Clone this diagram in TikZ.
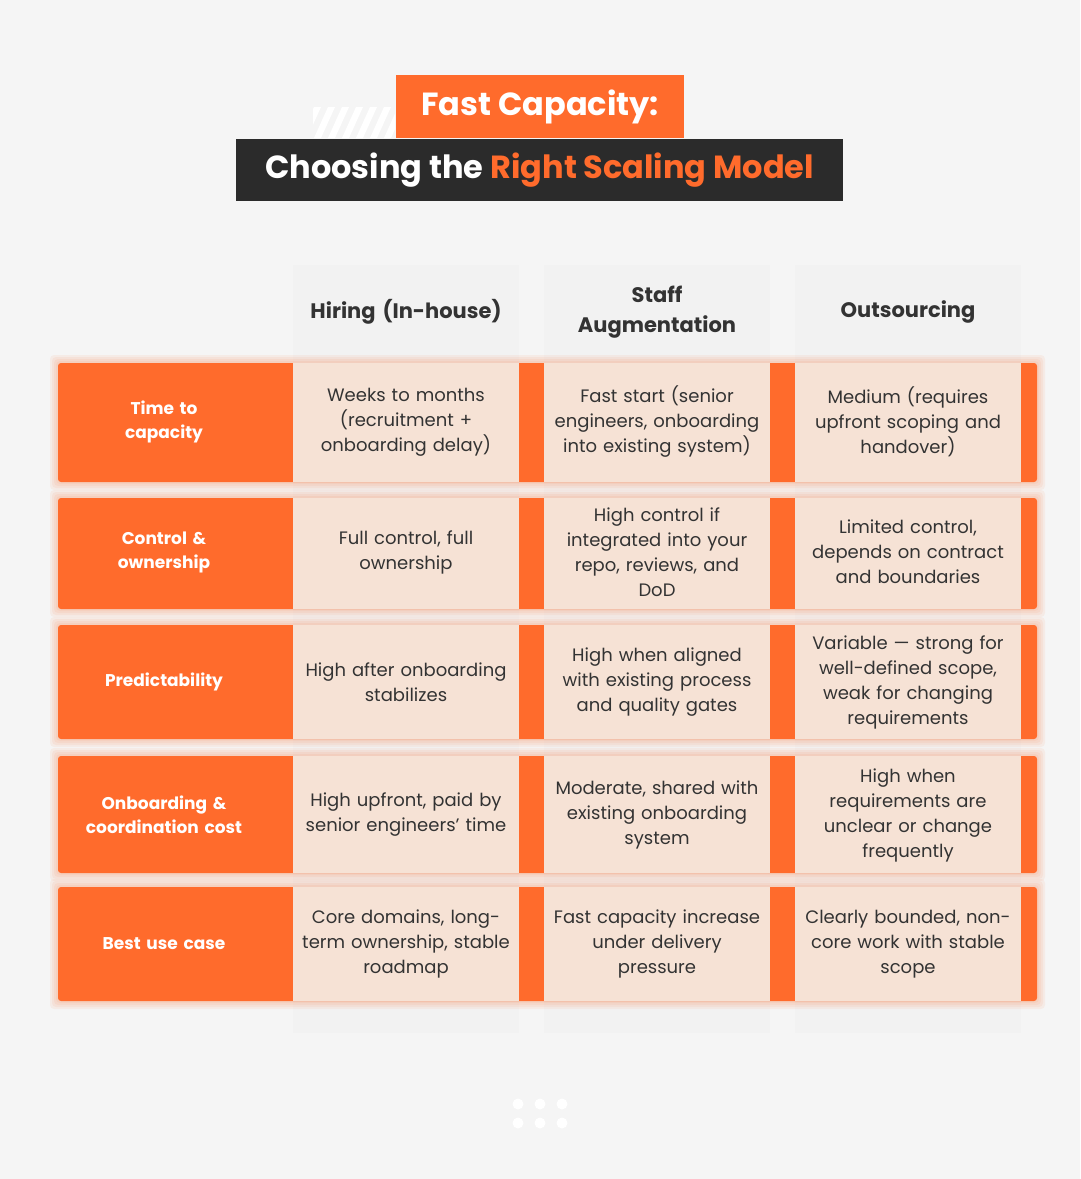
\documentclass[tikz,border=0pt]{standalone}
\usepackage{fontspec}
\setmainfont{Poppins}
\definecolor{bg}{HTML}{F5F5F5}
\definecolor{org}{HTML}{FF6B2C}
\definecolor{drk}{HTML}{2B2B2B}
\definecolor{cell}{HTML}{F6E2D5}
\definecolor{card}{HTML}{F2F2F2}
\definecolor{txt}{HTML}{333333}
\begin{document}
\begin{tikzpicture}[x=1pt,y=-1pt,
  lab/.style={text=white,font=\fontsize{17}{24}\selectfont\bfseries,align=center,text width=200pt},
  ct/.style={text=txt,font=\fontsize{18}{25}\selectfont,align=center,text width=218pt},
  hd/.style={text=txt,font=\fontsize{21}{30}\selectfont\bfseries,align=center,text width=215pt}]
\useasboundingbox (0,0) rectangle (1080,1179);
\fill[bg] (0,0) rectangle (1080,1179);
% title stripes
\begin{scope}
\clip (313,107) rectangle (395,138);
\foreach \i in {0,...,6} \fill[white] (300+\i*14,138) -- (314+\i*14,107) -- (321+\i*14,107) -- (307+\i*14,138) -- cycle;
\end{scope}
\node[fill=org,minimum width=288pt,minimum height=63pt,anchor=north west,inner sep=0,text=white,font=\fontsize{32}{36}\selectfont\bfseries] (t1) at (396,75) {Fast Capacity:};
\node[fill=drk,minimum width=607pt,minimum height=62pt,anchor=north west,inner sep=0,text=white,font=\fontsize{32}{36}\selectfont\bfseries] (t2) at (236,139) {Choosing the \textcolor{org}{Right Scaling Model}};
% cards
\foreach \x/\n in {293/a,544/b,795/c}
  \fill[card] (\x,265) rectangle +(226,768);
% rows
\foreach \ya/\yb in {363/482,498/609,625/739,756/873,887/1001}{
  \foreach \g in {8,6,4,2} \fill[org,opacity=0.07,rounded corners=4] (58-\g,\ya-\g) rectangle (1037+\g,\yb+\g);
  \fill[org,rounded corners=3] (58,\ya) rectangle (1037,\yb);
  \foreach \x in {293,544,795} \fill[cell] (\x,\ya) rectangle +(226,\yb-\ya);
}
\node[hd] (h1) at (406,312) {Hiring (In-house)};
\node[hd] (h2) at (657,312) {Staff\\Augmentation};
\node[hd] (h3) at (908,312) {Outsourcing};
\newcommand\myrow[5]{
 \node[lab] at (164,#1) {#2};
 \node[ct] at (406,#1) {#3};
 \node[ct] at (657,#1) {#4};
 \node[ct] at (908,#1) {#5};}
\myrow{422}{Time to\\capacity}{Weeks to months\\(recruitment +\\onboarding delay)}{Fast start (senior\\engineers, onboarding\\into existing system)}{Medium (requires\\upfront scoping and\\handover)}
\myrow{552}{Control \&\\ownership}{Full control, full\\ownership}{High control if\\integrated into your\\repo, reviews, and\\DoD}{Limited control,\\depends on contract\\and boundaries}
\myrow{682}{Predictability}{High after onboarding\\stabilizes}{High when aligned\\with existing process\\and quality gates}{Variable — strong for\\well-defined scope,\\weak for changing\\requirements}
\myrow{815}{Onboarding \&\\coordination cost}{High upfront, paid by\\senior engineers’ time}{Moderate, shared with\\existing onboarding\\system}{High when\\requirements are\\unclear or change\\frequently}
\myrow{944}{Best use case}{Core domains, long-\\term ownership, stable\\roadmap}{Fast capacity increase\\under delivery\\pressure}{Clearly bounded, non-\\core work with stable\\scope}
\foreach \x in {518,540,562} \foreach \y in {1104,1123} \fill[white] (\x,\y) circle (5.5);
\end{tikzpicture}
\end{document}
